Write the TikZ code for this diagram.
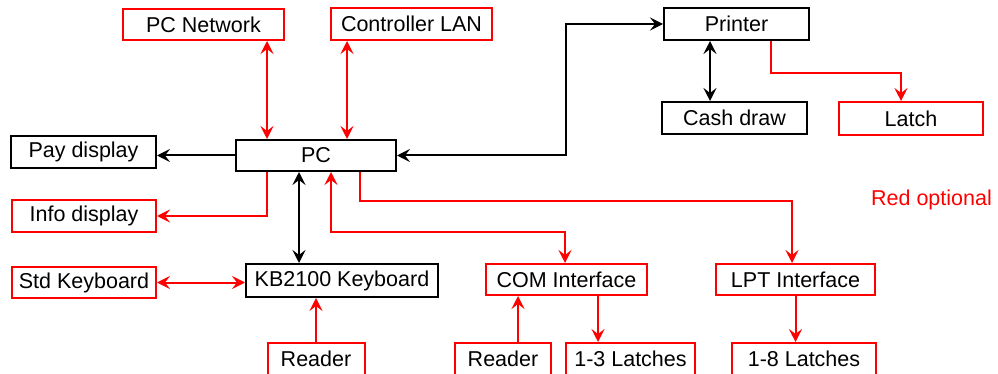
\documentclass[tikz,border=0pt]{standalone}
\usepackage{fontspec}
\setmainfont{Liberation Sans}
\usetikzlibrary{arrows.meta,calc}
\definecolor{optred}{RGB}{255,0,0}
\tikzset{
  tip/.tip={Stealth[length=13pt,width=13pt,inset=5pt]},
  box/.style={draw=black, line width=2pt, inner sep=0pt, minimum width=#1, minimum height=32pt, fill=white, font=\fontsize{21.5}{24}\selectfont, text=black},
  rbox/.style={box=#1, draw=optred},
  conn/.style={line width=2pt, draw=black, arrows={-tip}},
  rconn/.style={conn, draw=optred, color=optred},
  bi/.style={arrows={tip-tip}},
}
\begin{document}
\begin{tikzpicture}[x=1pt,y=-1pt]
\useasboundingbox (0,0) rectangle (998,374);
\clip (0,0) rectangle (998,374);
\fill[white] (0,0) rectangle (998,374);
% nodes
\node[rbox=161pt, minimum height=31pt] (pcnet) at (203.5,24.5) {PC Network};
\node[rbox=161pt] (clan) at (411.5,24) {Controller LAN};
\node[box=145pt] (pay) at (83.5,152) {Pay display};
\node[box=160pt, minimum height=31pt] (pc) at (316,155.5) {PC};
\node[box=145pt] (printer) at (736.5,24) {Printer};
\node[box=145pt] (cash) at (734.5,118) {Cash draw};
\node[rbox=144pt, minimum height=33pt] (latch) at (911,118.5) {Latch};
\node[rbox=144pt] (info) at (84,216) {Info display};
\node[rbox=144pt, minimum height=31pt] (std) at (84,282.5) {Std Keyboard};
\node[box=192pt, minimum height=33pt] (kb) at (342,280.5) {KB2100 Keyboard};
\node[rbox=161pt, minimum height=31pt] (com) at (566.5,279.5) {COM Interface};
\node[rbox=159pt, minimum height=31pt] (lpt) at (795.5,279.5) {LPT Interface};
\node[rbox=97pt] (rdA) at (316,359) {Reader};
\node[rbox=96pt] (rdB) at (503,359) {Reader};
\node[rbox=129pt] (l13) at (630.5,359) {1-3 Latches};
\node[rbox=144pt] (l18) at (804,359) {1-8 Latches};
\node[text=optred, font=\fontsize{21.5}{24}\selectfont, inner sep=0pt] (opt) at (931.5,200) {Red optional};
% helper coordinates on the PC box
\coordinate (pcN1) at ([xshift=32pt]pc.north west);
\coordinate (pcN2) at ([xshift=112pt]pc.north west);
\coordinate (pcS1) at ([xshift=32pt]pc.south west);
\coordinate (pcS2) at ([xshift=64pt]pc.south west);
\coordinate (pcS3) at ([xshift=96pt]pc.south west);
\coordinate (pcS4) at ([xshift=125pt]pc.south west);
\coordinate (prS1) at ([xshift=-26.5pt]printer.south);
\coordinate (prS2) at ([xshift=34.5pt]printer.south);
\coordinate (ltN) at ([xshift=-10pt]latch.north);
\coordinate (comN) at ([xshift=-1.5pt]com.north);
\coordinate (comS1) at ([xshift=-48.5pt]com.south);
\coordinate (comS2) at ([xshift=31.5pt]com.south);
\coordinate (lptN) at ([xshift=-3.5pt]lpt.north);
% connectors
\draw[rconn,bi] (pcnet.south -| pcN1) -- (pcN1);
\draw[rconn,bi] (clan.south -| pcN2) -- (pcN2);
\draw[conn] (pc.west) -- (pc.west -| pay.east);
\draw[conn,bi] (pc.east) -- ++(169,0) |- (printer.west);
\draw[conn,bi] (prS1) -- (prS1 |- cash.north);
\draw[rconn] (prS2) -- ++(0,32) -| (ltN);
\draw[rconn] (pcS1) |- (info.east);
\draw[conn,bi] (pcS2) -- (pcS2 |- kb.north);
\draw[rconn,bi] (pcS3) -- ++(0,59.5) -| (comN);
\draw[rconn, line width=1.2pt] (pcS4) -- ++(0,29) -| (lptN);
\draw[rconn,bi] (std.east) -- (std.east -| kb.west);
\draw[rconn] (rdA.north) -- (rdA.north |- kb.south);
\draw[rconn] (rdB.north -| comS1) -- (comS1);
\draw[rconn] (comS2) -- (comS2 |- l13.north);
\draw[rconn] (lpt.south) -- (lpt.south |- l18.north);
\end{tikzpicture}
\end{document}
